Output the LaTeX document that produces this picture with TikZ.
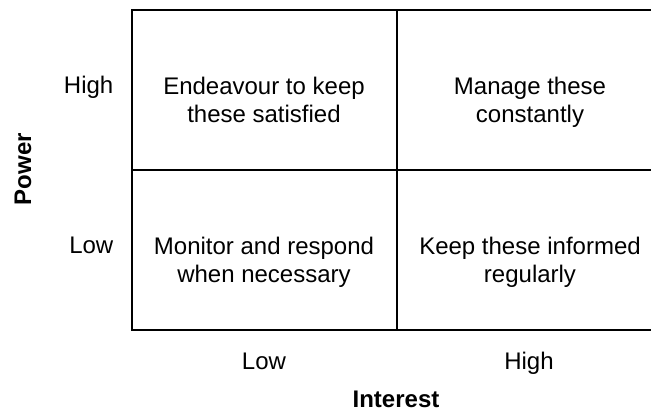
\documentclass[tikz,border=0pt]{standalone}
\usepackage{fontspec}
\setmainfont{Liberation Sans}
\usepackage{tikz}
\tikzset{
	cell/.style={align=center,text depth=.25em,font=\fontsize{18}{21}\selectfont},
	lvl/.style={anchor=base,font=\fontsize{18}{21}\selectfont},
	axis/.style={font=\bfseries\fontsize{18}{21}\selectfont}
}
\begin{document}
\begin{tikzpicture}[x=.75pt,y=-.75pt]
			\def\gx{132}\def\gm{397}\def\gr{662}%cot
			\def\gt{10}\def\gh{170}\def\gb{330}%hang
			\useasboundingbox[clip] (0,0) rectangle (651,412);
			\draw[line width=1.5pt] (\gr,\gt) -- (\gx,\gt) -- (\gx,\gb) -- (\gr,\gb);
			\draw[line width=1.5pt] (\gx,\gh) -- (\gr,\gh);
			\draw[line width=1.5pt] (\gm,\gt) -- (\gm,\gb);
			\node[cell] (tl) at (264,101) {Endeavour to keep\\these satisfied};
			\node[cell] (tr) at (530,101) {Manage these\\constantly};
			\node[cell] (bl) at (264,261) {Monitor and respond\\when necessary};
			\node[cell] (br) at (530,261) {Keep these informed\\regularly};
			\node[lvl,anchor=base east] (phi) at (118,93) {High};
			\node[lvl,anchor=base east] (plo) at (118,253) {Low};
			\node[lvl] (ilo) at (264,369) {Low};
			\node[lvl] (ihi) at (529,369) {High};
			\node[axis,rotate=90] (pw) at (23,169) {Power};
			\node[axis,anchor=base] (it) at (396,407) {Interest};
		\end{tikzpicture}
\end{document}
